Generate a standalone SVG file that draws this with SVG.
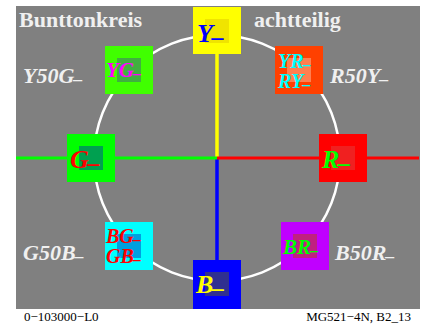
<svg xmlns="http://www.w3.org/2000/svg" width="424" height="331" viewBox="0 0 424 331">
<style>
.t{font-family:"Liberation Serif","Times New Roman",serif;font-weight:bold;fill:#f0f0f0}
.lab{font-family:"Liberation Serif","Times New Roman",serif;font-weight:bold;font-style:italic}
.big{font-size:26px}
.sm{font-size:21px}
.two{font-size:20px}
.side{font-family:"Liberation Serif","Times New Roman",serif;font-weight:bold;font-style:italic;font-size:22px;fill:#f0f0f0}
.foot{font-family:"Liberation Serif","Times New Roman",serif;font-size:13px;fill:#000}
</style>
<rect x="0" y="0" width="424" height="331" fill="#ffffff"/>
<rect x="16" y="6" width="404" height="303" fill="#808080"/>
<circle cx="217" cy="158" r="123" fill="none" stroke="#ffffff" stroke-width="2.5"/>
<g id="connectors">
<line x1="217" y1="158" x2="217" y2="54" stroke="#ffff00" stroke-width="3.5"/>
<line x1="217" y1="158" x2="217" y2="260" stroke="#0000ff" stroke-width="3.5"/>
<line x1="16" y1="158" x2="217" y2="158" stroke="#00ff00" stroke-width="3"/>
<line x1="217" y1="158" x2="419" y2="158" stroke="#ff0000" stroke-width="3"/>
</g>
<text class="t" x="19" y="27" font-size="22">Bunttonkreis</text>
<text class="t" x="254" y="27" font-size="22">achtteilig</text>
<text class="side" x="23" y="83">Y50G<tspan font-size="18" dy="-4">_</tspan></text>
<text class="side" x="330" y="83">R50Y<tspan font-size="18" dy="-4">_</tspan></text>
<text class="side" x="23" y="260">G50B<tspan font-size="18" dy="-4">_</tspan></text>
<text class="side" x="335" y="260">B50R<tspan font-size="18" dy="-4">_</tspan></text>
<g id="Y">
<rect x="193" y="7" width="48" height="47" fill="#ffff00"/>
<rect x="205" y="19" width="24" height="24" fill="#f0e400"/>
<text class="lab big" x="197" y="42" fill="#0000ff">Y<tspan font-size="24" dy="-5">_</tspan></text>
</g>
<g id="YG">
<rect x="105" y="46" width="48" height="48" fill="#40ff00"/>
<rect x="117" y="58" width="24" height="24" fill="#40b040"/>
<text class="lab sm" x="106" y="77" fill="#ff00ff">YG<tspan font-size="16" dy="-4">_</tspan></text>
</g>
<g id="YR">
<rect x="275" y="46" width="48" height="48" fill="#ff4000"/>
<rect x="287" y="58" width="24" height="24" fill="#ff7f50"/>
<text class="lab two" x="278" y="68" fill="#00ffff">YR<tspan font-size="16" dy="-4">_</tspan></text>
<text class="lab two" x="278" y="88" fill="#00ffff">RY<tspan font-size="16" dy="-4">_</tspan></text>
</g>
<g id="G">
<rect x="67" y="134" width="48" height="48" fill="#00ff00"/>
<rect x="79" y="146" width="24" height="24" fill="#00a050"/>
<text class="lab big" x="70" y="168" fill="#ff0000">G<tspan font-size="24" dy="-5">_</tspan></text>
</g>
<g id="R">
<rect x="319" y="134" width="48" height="48" fill="#ff0000"/>
<rect x="331" y="146" width="24" height="24" fill="#f02020"/>
<text class="lab big" x="322" y="168" fill="#00ff00">R<tspan font-size="24" dy="-5">_</tspan></text>
</g>
<g id="BG">
<rect x="105" y="222" width="48" height="48" fill="#00ffff"/>
<rect x="117" y="234" width="24" height="24" fill="#00a0e0"/>
<text class="lab two" x="106" y="243" fill="#ff0000">BG<tspan font-size="16" dy="-4">_</tspan></text>
<text class="lab two" x="106" y="263" fill="#ff0000">GB<tspan font-size="16" dy="-4">_</tspan></text>
</g>
<g id="BR">
<rect x="281" y="222" width="48" height="48" fill="#c000ff"/>
<rect x="293" y="234" width="24" height="24" fill="#c02080"/>
<text class="lab sm" x="283" y="254" fill="#00ff00">BR<tspan font-size="16" dy="-4">_</tspan></text>
</g>
<g id="B">
<rect x="193" y="260" width="48" height="49" fill="#0000ff"/>
<rect x="205" y="272" width="24" height="24" fill="#303090"/>
<text class="lab big" x="196" y="293" fill="#ffff00">B<tspan font-size="24" dy="-5">_</tspan></text>
</g>
<text class="foot" x="24" y="321">0−103000−L0</text>
<text class="foot" x="411" y="321" text-anchor="end">MG521−4N, B2_13</text>
</svg>
